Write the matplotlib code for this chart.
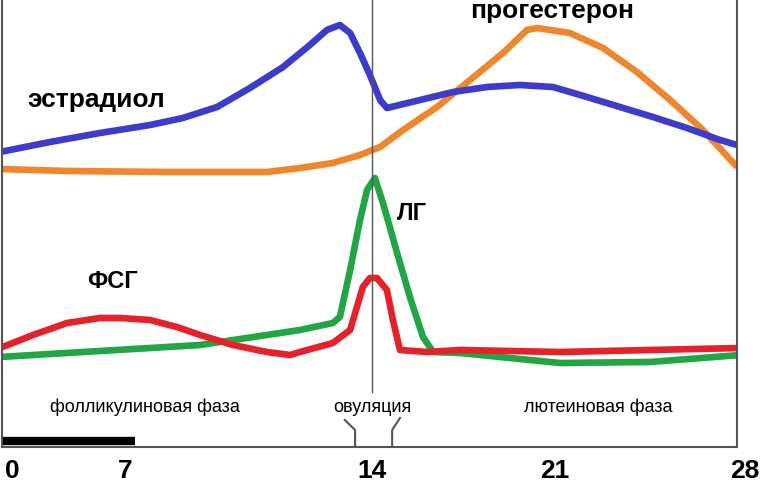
import matplotlib.pyplot as plt
import numpy as np

# ----------------------------------------------------------------------------------
# Hormone levels over the menstrual cycle (days, relative level)
# ----------------------------------------------------------------------------------

estradiol_day = [-0.74, 2.35, 5.45, 7.71, 8.64, 9.61, 10.54, 11.48, 12.24, 12.72, 13.09,
                 13.38, 13.66, 13.94, 14.31, 14.57, 15.84, 17.10, 18.40, 19.66, 20.92,
                 22.18, 23.39, 24.61, 25.86, 27.08, 27.71]
estradiol_lvl = [295, 305, 314, 322, 329, 340, 359, 380, 402, 417, 422,
                 414, 394, 372, 347, 339, 347, 355, 360, 362, 360,
                 350, 340, 330, 319, 307, 302]

progesterone_day = [-0.74, 3.41, 8.19, 11.02, 11.96, 12.89, 13.66, 14.31, 15.19, 16.49,
                    17.75, 19.01, 19.93, 20.31, 21.55, 22.77, 24.02, 25.24, 26.45, 27.71]
progesterone_lvl = [278, 276, 275, 275, 279, 284, 292, 300, 317, 340,
                    367, 394, 417, 419, 414, 399, 375, 347, 317, 280]

lh_day = [-0.74, 9.13, 11.96, 12.89, 13.09, 13.38, 13.66, 13.86, 14.11, 14.42, 14.96,
          15.45, 15.95, 16.34, 17.37, 18.90, 21.18, 24.50, 27.82]
lh_lvl = [90, 102, 117, 124, 130, 177, 227, 257, 269, 244, 194,
          150, 110, 95, 94, 90, 84, 85, 92]

fsh_day = [-0.74, 1.30, 3.41, 5.45, 6.69, 7.71, 8.47, 9.13, 10.06, 11.02, 11.68, 11.96,
           12.89, 13.38, 13.74, 13.94, 14.19, 14.57, 14.80, 15.07, 16.11, 17.37, 21.18, 27.82]
fsh_lvl = [99, 112, 124, 129, 129, 127, 120, 112, 102, 95, 92, 95,
           104, 117, 160, 169, 169, 157, 127, 97, 95, 97, 95, 99]

tick_days = [0, 7, 14, 21]
tick_labels = ['0', '7', '14', '21']
last_day = 28

# hand-drawn axis: days are not evenly spaced on the picture
scale_days = [-2, 0, 7, 14, 21, 28, 30]
scale_pos = [-20.3, 12, 125, 372, 555, 745, 799.3]

def fwd(d):
    return np.interp(d, scale_days, scale_pos)

def inv(p):
    return np.interp(p, scale_pos, scale_days)

plt.rcParams['font.family'] = ['Liberation Sans', 'DejaVu Sans']

fig = plt.figure(figsize=(7.63, 4.93), dpi=100)
ax = fig.add_axes([2 / 763, 46 / 493, 735 / 763, 447 / 493])
ax.set_xscale('function', functions=(fwd, inv))

kw = dict(lw=4.8, solid_joinstyle='round', solid_capstyle='butt')
ax.plot(progesterone_day, progesterone_lvl, color='#f0862c', **kw)
ax.plot(estradiol_day, estradiol_lvl, color='#3b3bcc', **kw)
ax.plot(lh_day, lh_lvl, color='#22a545', **kw)
ax.plot(fsh_day, fsh_lvl, color='#e5222a', **kw)

# ovulation line
ax.plot([14, 14], [55, 447], color='#555555', lw=1.0)

# brackets under "овуляция"
ax.plot([13.23, 13.52, 13.52], [27, 17, 0], color='#555555', lw=1.5)
ax.plot([15.07, 14.77, 14.77], [29, 17, 0], color='#555555', lw=1.5)

# black bar: first week
ax.plot([inv(2), 7.28], [6, 6], color='black', lw=6, solid_capstyle='butt')

# hormone names
ax.text(0.93, 347, 'эстрадиол', fontsize=19, fontweight='bold', va='center', ha='left')
ax.text(17.75, 436, 'прогестерон', fontsize=19, fontweight='bold', va='center', ha='left')
ax.text(14.95, 234, 'ЛГ', fontsize=17, fontweight='bold', va='center', ha='left')
ax.text(4.65, 166, 'ФСГ', fontsize=17, fontweight='bold', va='center', ha='left')

# phases
ax.text(7.57, 40, 'фолликулиновая фаза', fontsize=13, ha='center', va='center')
ax.text(14.0, 40, 'овуляция', fontsize=13, ha='center', va='center')
ax.text(22.58, 40, 'лютеиновая фаза', fontsize=13, ha='center', va='center')

# axes
ax.spines['top'].set_visible(False)
for side in ['left', 'right', 'bottom']:
    ax.spines[side].set_color('#555555')
    ax.spines[side].set_linewidth(1.5)
ax.set_yticks([])
ax.set_xticks(tick_days)
ax.set_xticklabels(tick_labels, fontsize=19, fontweight='bold')
ax.tick_params(axis='x', length=0, pad=9)
ax.set_xlim(inv(2), inv(737))
ax.set_ylim(0, 447)

# day 28 sits just past the right edge of the frame
ax.text(last_day, -12, str(last_day), fontsize=19, fontweight='bold',
        ha='center', va='top', clip_on=False)

plt.savefig('out.png', dpi=100)
